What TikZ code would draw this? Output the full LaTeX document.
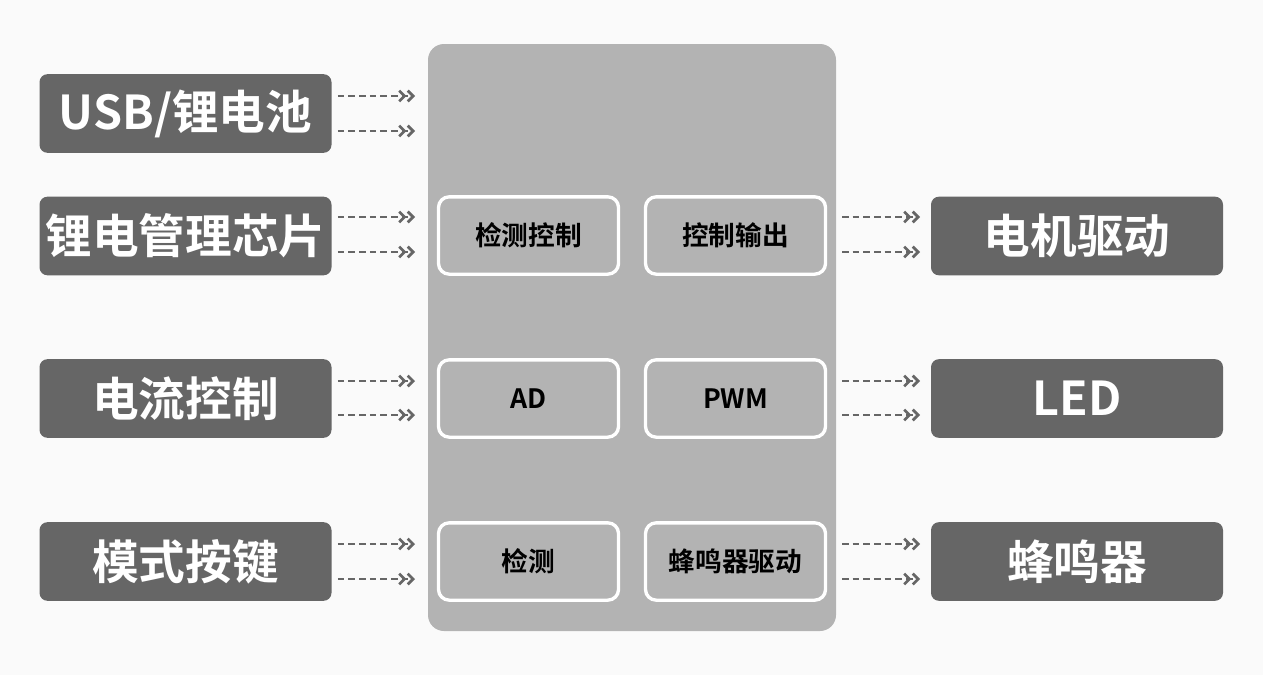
\documentclass[tikz,border=0pt]{standalone}
\usepackage{fontspec}
\setmainfont{Noto Sans CJK SC}[BoldFont={* Bold}]
\usetikzlibrary{arrows.meta}
\definecolor{boxgray}{HTML}{666666}
\definecolor{panelgray}{HTML}{B3B3B3}
\definecolor{bggray}{HTML}{FAFAFA}
\tikzset{
  outer/.style={fill=boxgray, rounded corners=6pt, text=white, font=\fontsize{35}{40}\selectfont\bfseries, minimum width=219pt, minimum height=59pt, inner sep=0pt},
  inner/.style={fill=panelgray, draw=white, line width=2.5pt, rounded corners=8pt, font=\fontsize{20}{24}\selectfont\bfseries, minimum width=135pt, minimum height=58pt, inner sep=0pt},
  link/.style={dashed, dash pattern=on 5pt off 3pt, line width=1.4pt, boxgray, -{Straight Barb[length=4pt,width=8pt,line width=2pt]Straight Barb[length=4pt,width=8pt,line width=2pt]}},
}
\begin{document}
\begin{tikzpicture}[x=0.75pt,y=-0.75pt]
  \fill[bggray] (0,0) rectangle (1263,675);
  \useasboundingbox (0,0) rectangle (1263,675);
  % central panel
  \fill[panelgray, rounded corners=12pt] (428,44) rectangle (836,631);
  % left inputs
  \node[outer] (usb) at (185.5,113.5) {USB/锂电池};
  \node[outer] (chip) at (185.5,236) {锂电管理芯片};
  \node[outer] (cur) at (185.5,398.5) {电流控制};
  \node[outer] (key) at (185.5,561.5) {模式按键};
  % right outputs
  \node[outer] (motor) at (1077,236) {电机驱动};
  \node[outer] (led) at (1077,398.5) {LED};
  \node[outer] (buzz) at (1077,561.5) {蜂鸣器};
  % inner blocks
  \node[inner] (detctl) at (528.5,235.5) {检测控制};
  \node[inner] (outctl) at (735.5,235.5) {控制输出};
  \node[inner] (ad) at (528.5,398.5) {AD};
  \node[inner] (pwm) at (735.5,398.5) {PWM};
  \node[inner] (det) at (528.5,561.5) {检测};
  \node[inner] (bzdrv) at (735.5,561.5) {蜂鸣器驱动};
  % connectors
  \foreach \n/\ya/\yb in {usb/96/131, chip/217/252, cur/381/415, key/544/579}{
    \coordinate (\n-a) at (415,\ya);
    \coordinate (\n-b) at (415,\yb);
    \draw[link] (\n.east |- \n-a) ++(6,0) -- (\n-a);
    \draw[link] (\n.east |- \n-b) ++(6,0) -- (\n-b);
  }
  \foreach \n/\ya/\yb in {motor/217/252, led/381/415, buzz/544/579}{
    \coordinate (\n-a) at (920,\ya);
    \coordinate (\n-b) at (920,\yb);
    \draw[link] (842,\ya) -- (\n-a);
    \draw[link] (842,\yb) -- (\n-b);
  }
\end{tikzpicture}
\end{document}
